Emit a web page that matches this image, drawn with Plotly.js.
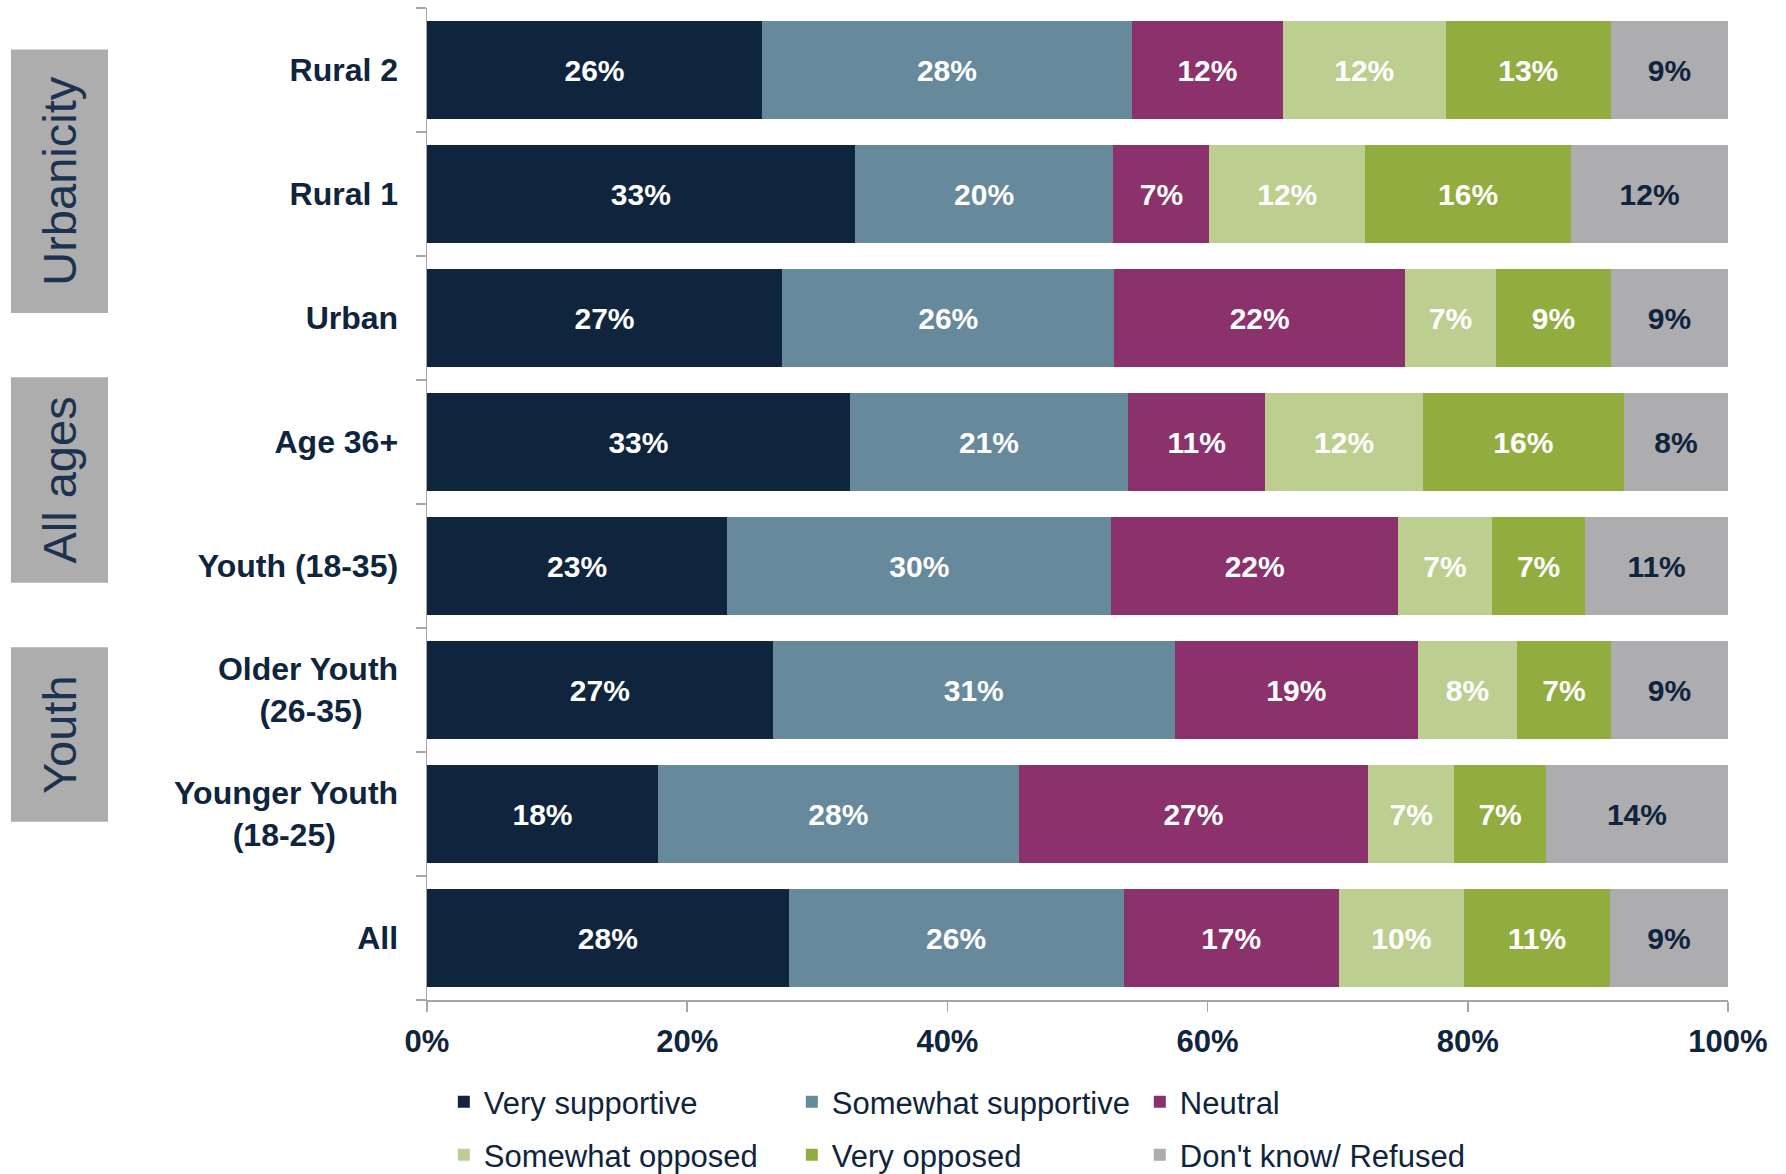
<!DOCTYPE html>
<html>
<head>
<meta charset="utf-8">
<script src="https://cdn.plot.ly/plotly-3.0.1.min.js"></script>
<style>
  html, body { margin: 0; padding: 0; background: #ffffff; }
  #chart { width: 1786px; height: 1174px; }
</style>
</head>
<body>
<div id="chart"></div>
<script>
// ---- Data (top row first) ----
const categories = ['Rural 2', 'Rural 1', 'Urban', 'Age 36+', 'Youth (18-35)', 'Older Youth (26-35)', 'Younger Youth (18-25)', 'All'];
const tickLabels = ['Rural 2', 'Rural 1', 'Urban', 'Age 36+', 'Youth (18-35)', 'Older Youth<br>(26-35)&nbsp;&nbsp;&nbsp;&nbsp;', 'Younger Youth<br>(18-25)&nbsp;&nbsp;&nbsp;&nbsp;&nbsp;&nbsp;&nbsp;', 'All'];

const verySupportive      = [25.75, 32.88, 27.29, 32.50, 23.07, 26.57, 17.75, 27.80];
const somewhatSupportive  = [28.43, 19.88, 25.55, 21.38, 29.54, 30.91, 27.73, 25.74];
const neutral             = [11.61,  7.38, 22.33, 10.56, 22.02, 18.69, 26.86, 16.54];
const somewhatOpposed     = [12.50, 11.96,  6.99, 12.10,  7.23,  7.60,  6.62,  9.63];
const veryOpposed         = [12.71, 15.84,  8.84, 15.46,  7.16,  7.23,  7.04, 11.22];
const dontKnow            = [ 9.00, 12.06,  9.00,  8.00, 10.98,  9.00, 14.00,  9.07];

const verySupportiveLbl     = [26, 33, 27, 33, 23, 27, 18, 28];
const somewhatSupportiveLbl = [28, 20, 26, 21, 30, 31, 28, 26];
const neutralLbl            = [12,  7, 22, 11, 22, 19, 27, 17];
const somewhatOpposedLbl    = [12, 12,  7, 12,  7,  8,  7, 10];
const veryOpposedLbl        = [13, 16,  9, 16,  7,  7,  7, 11];
const dontKnowLbl           = [ 9, 12,  9,  8, 11,  9, 14,  9];

const seriesNames = ['Very supportive', 'Somewhat supportive', 'Neutral', 'Somewhat opposed', 'Very opposed', "Don't know/ Refused"];
const groupLabels = ['Urbanicity', 'All ages', 'Youth'];

// ---- Styles ----
const FONT = 'Liberation Sans, Arial, sans-serif';
const NAVY = '#0f243d';
const colors = ['#0f243d', '#67899c', '#8b316b', '#bdcf90', '#91ad40', '#adadaf'];
const textColors = ['#ffffff', '#ffffff', '#ffffff', '#ffffff', '#ffffff', NAVY];
const legendIds = ['legend', 'legend', 'legend', 'legend2', 'legend2', 'legend2'];

const values = [verySupportive, somewhatSupportive, neutral, somewhatOpposed, veryOpposed, dontKnow];
const labels = [verySupportiveLbl, somewhatSupportiveLbl, neutralLbl, somewhatOpposedLbl, veryOpposedLbl, dontKnowLbl];

const traces = values.map((v, i) => ({
  type: 'bar',
  orientation: 'h',
  name: seriesNames[i],
  y: categories,
  x: v,
  text: labels[i],
  texttemplate: '%{text}%',
  textposition: 'inside',
  insidetextanchor: 'middle',
  textangle: 0,
  constraintext: 'none',
  textfont: { family: FONT, size: 30, color: textColors[i], weight: 'bold' },
  marker: { color: colors[i], line: { width: 0 } },
  width: 0.79,
  legend: legendIds[i],
  hoverinfo: 'skip'
}));

// group boxes (paper coordinates)
const boxX = [-0.3198, -0.2452];
const boxes = [
  { y0: 0.6925, y1: 0.9582 },
  { y0: 0.4205, y1: 0.6277 },
  { y0: 0.1796, y1: 0.3557 }
];
const shapes = boxes.map(b => ({
  type: 'rect', xref: 'paper', yref: 'paper',
  x0: boxX[0], x1: boxX[1], y0: b.y0, y1: b.y1,
  fillcolor: '#adadad', line: { width: 0 }, layer: 'below'
}));
const annotations = boxes.map((b, i) => ({
  xref: 'paper', yref: 'paper',
  x: (boxX[0] + boxX[1]) / 2, y: (b.y0 + b.y1) / 2,
  text: groupLabels[i], textangle: -90, showarrow: false,
  xanchor: 'center', yanchor: 'middle',
  font: { family: FONT, size: 47, color: '#1b3350' }
}));

const legendCommon = {
  orientation: 'h',
  traceorder: 'normal',
  xref: 'container', yref: 'container',
  xanchor: 'left', yanchor: 'middle',
  x: 0.2485,
  entrywidth: 303, entrywidthmode: 'pixels',
  font: { family: FONT, size: 31, color: NAVY },
  bgcolor: 'rgba(0,0,0,0)',
  itemclick: false, itemdoubleclick: false
};

const layout = {
  width: 1786, height: 1174,
  margin: { l: 427, r: 58, t: 8, b: 174, pad: 0, autoexpand: false },
  paper_bgcolor: '#ffffff', plot_bgcolor: '#ffffff',
  barmode: 'stack',
  showlegend: true,
  xaxis: {
    range: [0, 100], dtick: 20, tick0: 0, ticksuffix: '%',
    showgrid: false, zeroline: false,
    showline: true, linecolor: '#a6a6a6', linewidth: 1.5,
    ticks: 'outside', ticklen: 10, tickcolor: '#a6a6a6', tickwidth: 1.5,
    ticklabelstandoff: 3,
    tickfont: { family: FONT, size: 31, color: NAVY, weight: 'bold' },
    fixedrange: true
  },
  yaxis: {
    type: 'category',
    categoryorder: 'array', categoryarray: categories,
    autorange: 'reversed',
    tickmode: 'array', tickvals: categories, ticktext: tickLabels,
    tickson: 'boundaries',
    showgrid: false, zeroline: false,
    showline: true, linecolor: '#a6a6a6', linewidth: 1.5,
    ticks: 'outside', ticklen: 10, tickcolor: '#a6a6a6', tickwidth: 1.5,
    ticklabelstandoff: 21,
    tickfont: { family: FONT, size: 32, color: NAVY, weight: 'bold' },
    fixedrange: true
  },
  legend: Object.assign({}, legendCommon, { y: 0.0613 }),
  legend2: Object.assign({}, legendCommon, { y: 0.0162 }),
  shapes: shapes,
  annotations: annotations
};

Plotly.newPlot('chart', traces, layout, { displayModeBar: false, staticPlot: true });
</script>
</body>
</html>
